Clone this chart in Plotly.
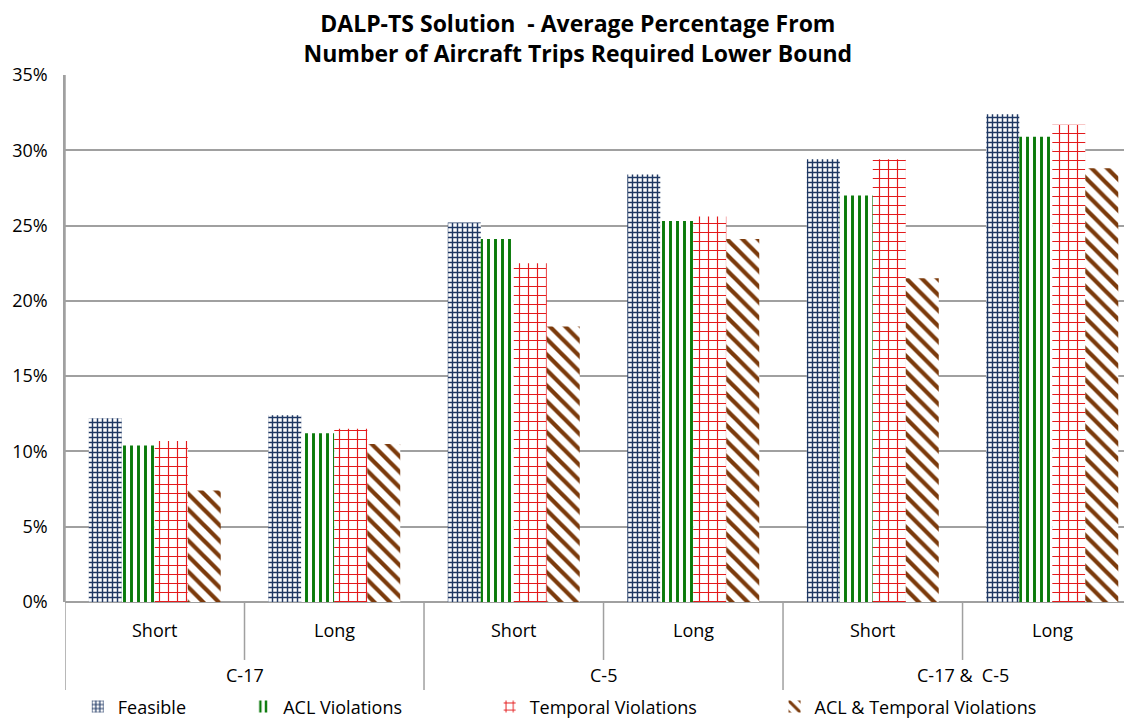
import plotly.graph_objects as go

groups = ["C-17", "C-17", "C-5", "C-5", "C-17 &  C-5", "C-17 &  C-5"]
lengths = ["Short", "Long", "Short", "Long", "Short", "Long"]

feasible = [12.2, 12.4, 25.2, 28.4, 29.4, 32.4]
acl = [10.4, 11.2, 24.1, 25.3, 27.0, 30.9]
temporal = [10.7, 11.5, 22.5, 25.6, 29.4, 31.7]
acl_temporal = [7.4, 10.5, 18.3, 24.1, 21.5, 28.8]

series_names = ["Feasible", "ACL Violations", "Temporal Violations", "ACL & Temporal Violations"]
series_values = [feasible, acl, temporal, acl_temporal]
colors = ["#1F3864", "#0A7A0A", "#E41A1C", "#7B3A0B"]
shapes_pat = ["+", "|", "+", "\\"]
pat_sizes = [5, 7, 9, 11]
pat_sol = [0.5, 0.42, 0.24, 0.38]
legend_x = [0.012, 0.167, 0.398, 0.665]

xpos = list(range(len(lengths)))

fig = go.Figure()
for i, (name, vals) in enumerate(zip(series_names, series_values)):
    fig.add_trace(go.Bar(
        x=xpos, y=vals, name=name,
        marker=dict(color="white", line=dict(width=0),
                    pattern=dict(shape=shapes_pat[i], fgcolor=colors[i], bgcolor="white",
                                 size=pat_sizes[i], solidity=pat_sol[i], fillmode="replace")),
        legend="legend" if i == 0 else f"legend{i+1}",
        showlegend=True,
    ))

font_family = "Open Sans, DejaVu Sans, sans-serif"
legend_common = dict(orientation="h", yanchor="middle", y=-0.199, xanchor="left",
                     font=dict(size=18, color="#000", family=font_family),
                     bgcolor="rgba(0,0,0,0)", itemwidth=30)

layout_legends = {}
for i in range(4):
    key = "legend" if i == 0 else f"legend{i+1}"
    layout_legends[key] = dict(legend_common, x=legend_x[i])

shapes = []
grid_col = "#A0A0A0"
shapes.append(dict(type="line", xref="x", yref="paper", x0=-0.5, x1=-0.5, y0=1, y1=-0.167,
                   line=dict(color=grid_col, width=1.5)))
for i in range(len(lengths) - 1):
    boundary = i + 0.5
    if groups[i] != groups[i + 1]:
        y1 = -0.167
    else:
        y1 = -0.110
    shapes.append(dict(type="line", xref="x", yref="paper", x0=boundary, x1=boundary, y0=0, y1=y1,
                       line=dict(color=grid_col, width=1.5)))

annotations = []
for x, lab in zip(xpos, lengths):
    annotations.append(dict(x=x, y=-0.053, xref="x", yref="paper", text=lab, showarrow=False,
                            font=dict(size=18, color="#000", family=font_family), yanchor="middle"))
uniq = []
for g in groups:
    if g not in uniq:
        uniq.append(g)
for g in uniq:
    idx = [i for i, gg in enumerate(groups) if gg == g]
    cx = (idx[0] + idx[-1]) / 2
    annotations.append(dict(x=cx, y=-0.139, xref="x", yref="paper", text=g, showarrow=False,
                            font=dict(size=18, color="#000", family=font_family), yanchor="middle"))

fig.update_layout(
    width=1124, height=710,
    margin=dict(l=57, r=0, t=67, b=116, autoexpand=False),
    paper_bgcolor="white", plot_bgcolor="white",
    showlegend=True,
    barmode="group", bargap=0.265, bargroupgap=0,
    title=dict(text="<b>DALP-TS Solution  - Average Percentage From<br>Number of Aircraft Trips Required Lower Bound</b>",
               x=0.507, xanchor="center", y=0.966, yanchor="middle",
               font=dict(size=23, color="#000", family=font_family)),
    xaxis=dict(range=[-0.5, 5.444], showticklabels=False, showgrid=False, zeroline=False,
               showline=False, ticks=""),
    yaxis=dict(range=[0, 35], dtick=5, ticksuffix="%", showgrid=True, gridcolor=grid_col, gridwidth=1.5,
               zeroline=True, zerolinecolor=grid_col, zerolinewidth=1.5,
               showline=True, linecolor=grid_col, linewidth=1.5, ticklabelstandoff=12,
               tickfont=dict(size=18, color="#000", family=font_family), ticks=""),
    shapes=shapes, annotations=annotations,
    **layout_legends,
)

fig.write_html("out.html")
